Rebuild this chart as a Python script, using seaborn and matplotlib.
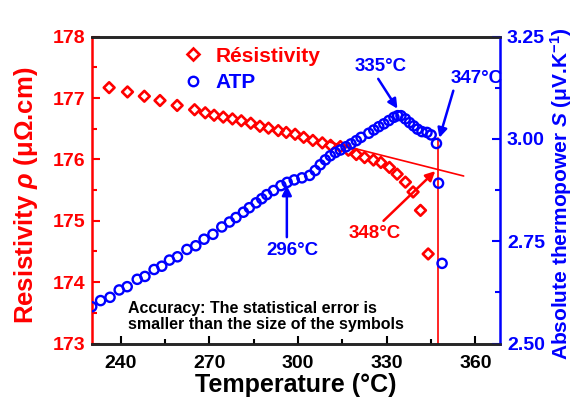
import matplotlib
matplotlib.use("Agg")
import matplotlib.pyplot as plt
import seaborn as sns
import pandas as pd
from matplotlib.lines import Line2D
from matplotlib.ticker import MultipleLocator

# ---------------- data ----------------
res_T = [236.1, 242.3, 248.0, 253.3, 259.1, 265.0, 268.6, 271.6, 274.7, 277.8,
         280.8, 284.0, 287.1, 290.0, 293.3, 296.0, 299.0, 301.9, 305.0, 308.2,
         311.0, 314.3, 317.0, 319.7, 322.5, 325.5, 328.0, 330.9, 333.5, 336.3,
         338.9, 341.4, 344.0]
res_rho = [177.17, 177.10, 177.03, 176.96, 176.88, 176.81, 176.76, 176.72, 176.69, 176.66,
           176.63, 176.59, 176.54, 176.51, 176.47, 176.44, 176.41, 176.36, 176.31, 176.27,
           176.23, 176.21, 176.15, 176.08, 176.03, 175.99, 175.95, 175.87, 175.76, 175.63,
           175.47, 175.17, 174.46]

atp_T = [230.2, 233.2, 236.4, 239.5, 242.2, 245.6, 248.2, 251.3, 253.9, 256.5,
         259.2, 262.4, 265.4, 268.2, 271.2, 274.2, 276.8, 279.0, 281.5, 283.5,
         285.8, 287.7, 289.4, 291.7, 294.2, 296.3, 298.7, 301.3, 303.9, 305.8,
         307.5, 309.2, 310.9, 312.6, 314.3, 316.2, 317.9, 319.7, 321.3, 323.9,
         325.6, 327.3, 329.0, 330.7, 332.4, 333.7, 334.8, 336.3, 337.7, 339.1,
         340.4, 341.9, 343.6, 345.0, 346.8, 347.5, 348.7]
atp_S = [2.590, 2.605, 2.613, 2.631, 2.639, 2.657, 2.664, 2.681, 2.689, 2.704,
         2.712, 2.730, 2.739, 2.755, 2.767, 2.785, 2.797, 2.808, 2.821, 2.832,
         2.844, 2.854, 2.864, 2.874, 2.886, 2.894, 2.900, 2.905, 2.911, 2.923,
         2.937, 2.949, 2.959, 2.967, 2.973, 2.981, 2.988, 2.996, 3.004, 3.014,
         3.022, 3.030, 3.037, 3.045, 3.053, 3.057, 3.057, 3.049, 3.040, 3.032,
         3.024, 3.018, 3.016, 3.010, 2.989, 2.892, 2.696]

fit_T = [310.0, 356.0]
fit_rho = [176.29, 175.73]
vline_T = 347.4
vline_rho = [173.0, 176.35]

x_ticks = [240, 270, 300, 330, 360]
rho_ticks = [173, 174, 175, 176, 177, 178]
s_ticks = [2.50, 2.75, 3.00, 3.25]

RED = "#ff0000"
BLUE = "#0000ff"

# ---------------- style ----------------
sns.set_style("ticks")
plt.rcParams["font.family"] = ["Liberation Sans", "DejaVu Sans"]
plt.rcParams["font.weight"] = "bold"
plt.rcParams["mathtext.fontset"] = "custom"
plt.rcParams["mathtext.rm"] = "Liberation Sans:weight=bold"
plt.rcParams["mathtext.it"] = "Liberation Sans:style=italic:weight=bold"
plt.rcParams["mathtext.bf"] = "Liberation Sans:weight=bold"

fig = plt.figure(figsize=(5.79, 3.99), dpi=100)
ax = fig.add_axes([0.1589, 0.139, 0.7047, 0.769])
ax2 = ax.twinx()

df_res = pd.DataFrame({"T": res_T, "rho": res_rho})
df_atp = pd.DataFrame({"T": atp_T, "S": atp_S})

sns.scatterplot(data=df_res, x="T", y="rho", ax=ax, marker="D", s=30,
                facecolor="none", edgecolor=RED, linewidth=1.9, legend=False, zorder=3)
sns.scatterplot(data=df_atp, x="T", y="S", ax=ax2, marker="o", s=44,
                facecolor="none", edgecolor=BLUE, linewidth=1.7, legend=False, zorder=3)

sns.lineplot(x=fit_T, y=fit_rho, ax=ax, color=RED, lw=1.2, legend=False)
ax.plot([vline_T, vline_T], vline_rho, color=RED, lw=1.2)

ax.set_xlim(230.3, 368.3)
ax.set_ylim(173, 178)
ax2.set_ylim(2.5, 3.25)
ax.set_xticks(x_ticks)
ax.set_yticks(rho_ticks)
ax2.set_yticks(s_ticks)
ax2.set_yticklabels([f"{v:.2f}" for v in s_ticks])
ax.xaxis.set_minor_locator(MultipleLocator(15))
ax.yaxis.set_minor_locator(MultipleLocator(0.5))
ax2.yaxis.set_minor_locator(MultipleLocator(0.125))

for a in (ax, ax2):
    for sp in a.spines.values():
        sp.set_linewidth(1.8)
ax.spines["left"].set_color(RED)
ax.spines["bottom"].set_color("black")
ax.spines["top"].set_color("black")
ax2.spines["right"].set_color(BLUE)
ax2.spines["left"].set_visible(False)
ax.spines["right"].set_visible(False)

ax.tick_params(axis="x", which="both", direction="in", top=False, colors="black",
               labelsize=14, width=1.5)
ax.tick_params(axis="x", which="major", length=6, pad=8)
ax.tick_params(axis="x", which="minor", length=3.5)
ax.tick_params(axis="y", which="both", direction="in", colors=RED, labelsize=14, width=1.5)
ax.tick_params(axis="y", which="major", length=6, pad=5)
ax.tick_params(axis="y", which="minor", length=3.5)
ax2.tick_params(axis="y", which="both", direction="in", colors=BLUE, labelsize=14, width=1.5)
ax2.tick_params(axis="y", which="major", length=6, pad=5)
ax2.tick_params(axis="y", which="minor", length=3.5)
for lab in ax.get_xticklabels() + ax.get_yticklabels() + ax2.get_yticklabels():
    lab.set_fontweight("bold")

ax.set_xlabel("Temperature (°C)", fontsize=18, fontweight="bold", color="black", labelpad=1)
ax.set_ylabel(r"Resistivity $\rho$ (μΩ.cm)", fontsize=18.5, fontweight="bold", color=RED)
ax.yaxis.set_label_coords(-0.127, 0.484)
ax2.set_ylabel(r"Absolute thermopower $S$ (μV.K$^{-1}$)", fontsize=15, fontweight="bold",
               color=BLUE)
ax2.yaxis.set_label_coords(1.117, 0.49)

# legend
handles = [Line2D([], [], marker="D", ls="none", mfc="none", mec=RED, mew=1.9, ms=5.8),
           Line2D([], [], marker="o", ls="none", mfc="none", mec=BLUE, mew=1.7, ms=6.8)]
leg = ax.legend(handles, ["Résistivity", "ATP"], loc="upper left",
                bbox_to_anchor=(0.17, 1.029), frameon=False,
                handletextpad=0.5, handlelength=1.2, labelspacing=0.35,
                borderaxespad=0.5, prop={"weight": "bold", "size": 15})
leg.get_texts()[0].set_color(RED)
leg.get_texts()[1].set_color(BLUE)

arrow_b = dict(arrowstyle="-|>", color=BLUE, lw=1.8, mutation_scale=14, shrinkA=0, shrinkB=0)
arrow_r = dict(arrowstyle="-|>", color=RED, lw=1.8, mutation_scale=14, shrinkA=0, shrinkB=0)

ax2.text(327.8, 3.176, "335°C", color=BLUE, fontsize=13.5, fontweight="bold", ha="center", va="center")
ax2.annotate("", xy=(333.6, 3.074), xytext=(327.1, 3.147), arrowprops=arrow_b)
ax2.text(360.3, 3.149, "347°C", color=BLUE, fontsize=13.5, fontweight="bold", ha="center", va="center")
ax2.annotate("", xy=(347.8, 3.003), xytext=(352.5, 3.118), arrowprops=arrow_b)
ax2.text(298.0, 2.728, "296°C", color=BLUE, fontsize=13.5, fontweight="bold", ha="center", va="center")
ax2.annotate("", xy=(296.2, 2.886), xytext=(296.2, 2.760), arrowprops=arrow_b)
ax.text(325.8, 174.80, "348°C", color=RED, fontsize=13.5, fontweight="bold", ha="center", va="center")
ax.annotate("", xy=(346.4, 175.81), xytext=(328.9, 175.00), arrowprops=arrow_r)

ax.text(242.5, 173.44, "Accuracy: The statistical error is\nsmaller than the size of the symbols",
        color="black", fontsize=11.5, fontweight="bold", ha="left", va="center", linespacing=1.15)

fig.savefig("out.png", dpi=100)
